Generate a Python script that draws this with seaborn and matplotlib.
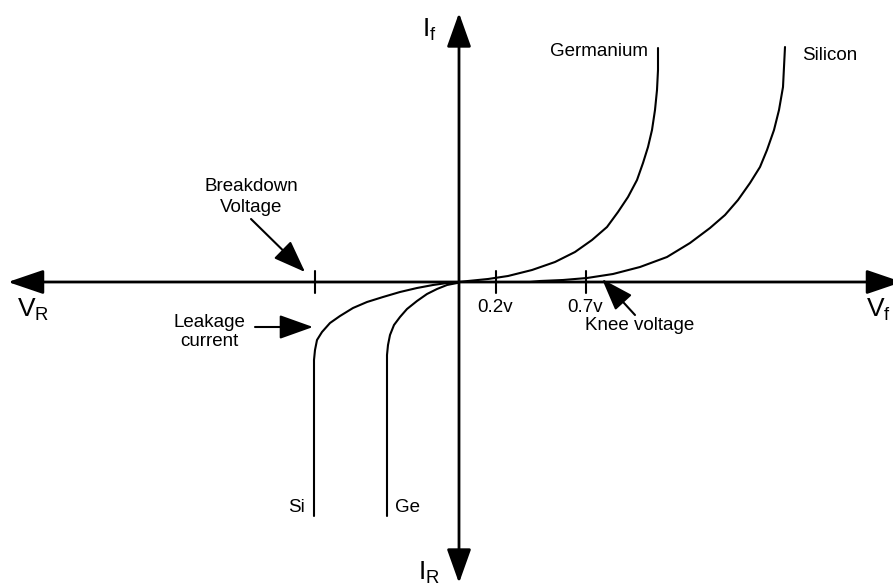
import pandas as pd
import numpy as np
import matplotlib
matplotlib.use("Agg")
import matplotlib.pyplot as plt
import seaborn as sns

# ==========================================================
# DATA (schematic units, origin at the axes crossing)
# ==========================================================

ge_fwd_x = [0, 9, 29, 49, 73, 96, 116, 133, 148, 159, 169, 178, 184, 189, 193, 196, 198, 199, 199]
ge_fwd_y = [0, 1, 3, 6, 12, 20, 30, 42, 55, 70, 85, 102, 119, 135, 152, 172, 192, 212, 234]

si_fwd_x = [61, 71, 81, 104, 128, 154, 181, 208, 231, 251, 266, 279, 291, 301, 308, 315, 320, 324, 325, 326]
si_fwd_y = [0, 0, 1, 2, 4, 8, 15, 25, 39, 54, 67, 82, 99, 115, 132, 152, 172, 195, 215, 235]

si_rev_x = [0, -2, -12, -26, -42, -59, -76, -92, -106, -119, -129, -137, -142, -144, -145, -145]
si_rev_y = [0, -1, -1, -3, -6, -10, -15, -20, -26, -34, -41, -50, -58, -68, -78, -234]

ge_rev_x = [0, -2, -12, -22, -32, -42, -52, -59, -65, -69, -71, -72, -72]
ge_rev_y = [0, -1, -3, -7, -12, -19, -27, -35, -43, -53, -63, -73, -234]

tick_x = [-144, 37, 127]
tick_labels = ["", "0.2v", "0.7v"]

curves = pd.concat([
    pd.DataFrame({"x": ge_fwd_x, "y": ge_fwd_y, "curve": "Germanium"}),
    pd.DataFrame({"x": si_fwd_x, "y": si_fwd_y, "curve": "Silicon"}),
    pd.DataFrame({"x": si_rev_x, "y": si_rev_y, "curve": "Si reverse"}),
    pd.DataFrame({"x": ge_rev_x, "y": ge_rev_y, "curve": "Ge reverse"}),
])

# ==========================================================
# FIGURE
# ==========================================================

sns.set_theme(style="white")
plt.rcParams["font.family"] = ["Liberation Sans", "DejaVu Sans"]
plt.rcParams["mathtext.default"] = "regular"
plt.rcParams["text.color"] = "black"

fig = plt.figure(figsize=(8.93, 5.85), dpi=100)
ax = fig.add_axes([0, 0, 1, 1])
ax.set_xlim(-459, 434)
ax.set_ylim(-303, 282)
ax.axis("off")

sns.lineplot(
    data=curves,
    x="x",
    y="y",
    units="curve",
    estimator=None,
    sort=False,
    color="black",
    linewidth=1.5,
    legend=False,
    ax=ax
)
for line in ax.lines:
    line.set_solid_joinstyle("round")


def arrow(tip, tail, style, length, width, lw):
    ax.annotate(
        "",
        xy=tip,
        xytext=tail,
        arrowprops=dict(
            arrowstyle=f"{style},head_length={length},head_width={width}",
            color="black",
            lw=lw,
            shrinkA=0,
            shrinkB=0,
            mutation_scale=10,
        ),
    )


# main axes
arrow((-451, 0), (443, 0), "<|-|>", 2.2, 0.75, 2)
arrow((0, 269), (0, -301), "<|-|>", 2.1, 0.75, 2)

# pointer arrows
arrow((-154, 10), (-208, 63), "-|>", 2.0, 0.75, 1.5)
arrow((-146, -45), (-204, -45), "-|>", 2.1, 0.75, 1.5)
arrow((143, 3), (176, -33), "-|>", 2.0, 0.7, 1.5)

# ticks on the voltage axis
for tx, lab in zip(tick_x, tick_labels):
    ax.plot([tx, tx], [-11, 11], color="black", lw=1.5)
    if lab:
        ax.text(tx - 1, -25, lab, ha="center", va="center", fontsize=13.5)

# ==========================================================
# LABELS
# ==========================================================

fs = 13.5
ax.text(-208, 85, "Breakdown\nVoltage", ha="center", va="center",
        fontsize=fs, linespacing=1.3)
ax.text(-250, -50, "Leakage\ncurrent", ha="center", va="center",
        fontsize=fs, linespacing=1.15)
ax.text(126, -43, "Knee voltage", ha="left", va="center", fontsize=fs)
ax.text(189, 230, "Germanium", ha="right", va="center", fontsize=fs)
ax.text(343, 227, "Silicon", ha="left", va="center", fontsize=fs)
ax.text(-154, -226, "Si", ha="right", va="center", fontsize=fs)
ax.text(-64, -226, "Ge", ha="left", va="center", fontsize=fs)

big = 19
ax.text(-442, -28, "$V_R$", ha="left", va="center", fontsize=big)
ax.text(432, -28, "$V_f$", ha="right", va="center", fontsize=big)
ax.text(-37, 252, "$I_f$", ha="left", va="center", fontsize=big)
ax.text(-41, -291, "$I_R$", ha="left", va="center", fontsize=big)

plt.savefig("out.png", dpi=100)
plt.close()
